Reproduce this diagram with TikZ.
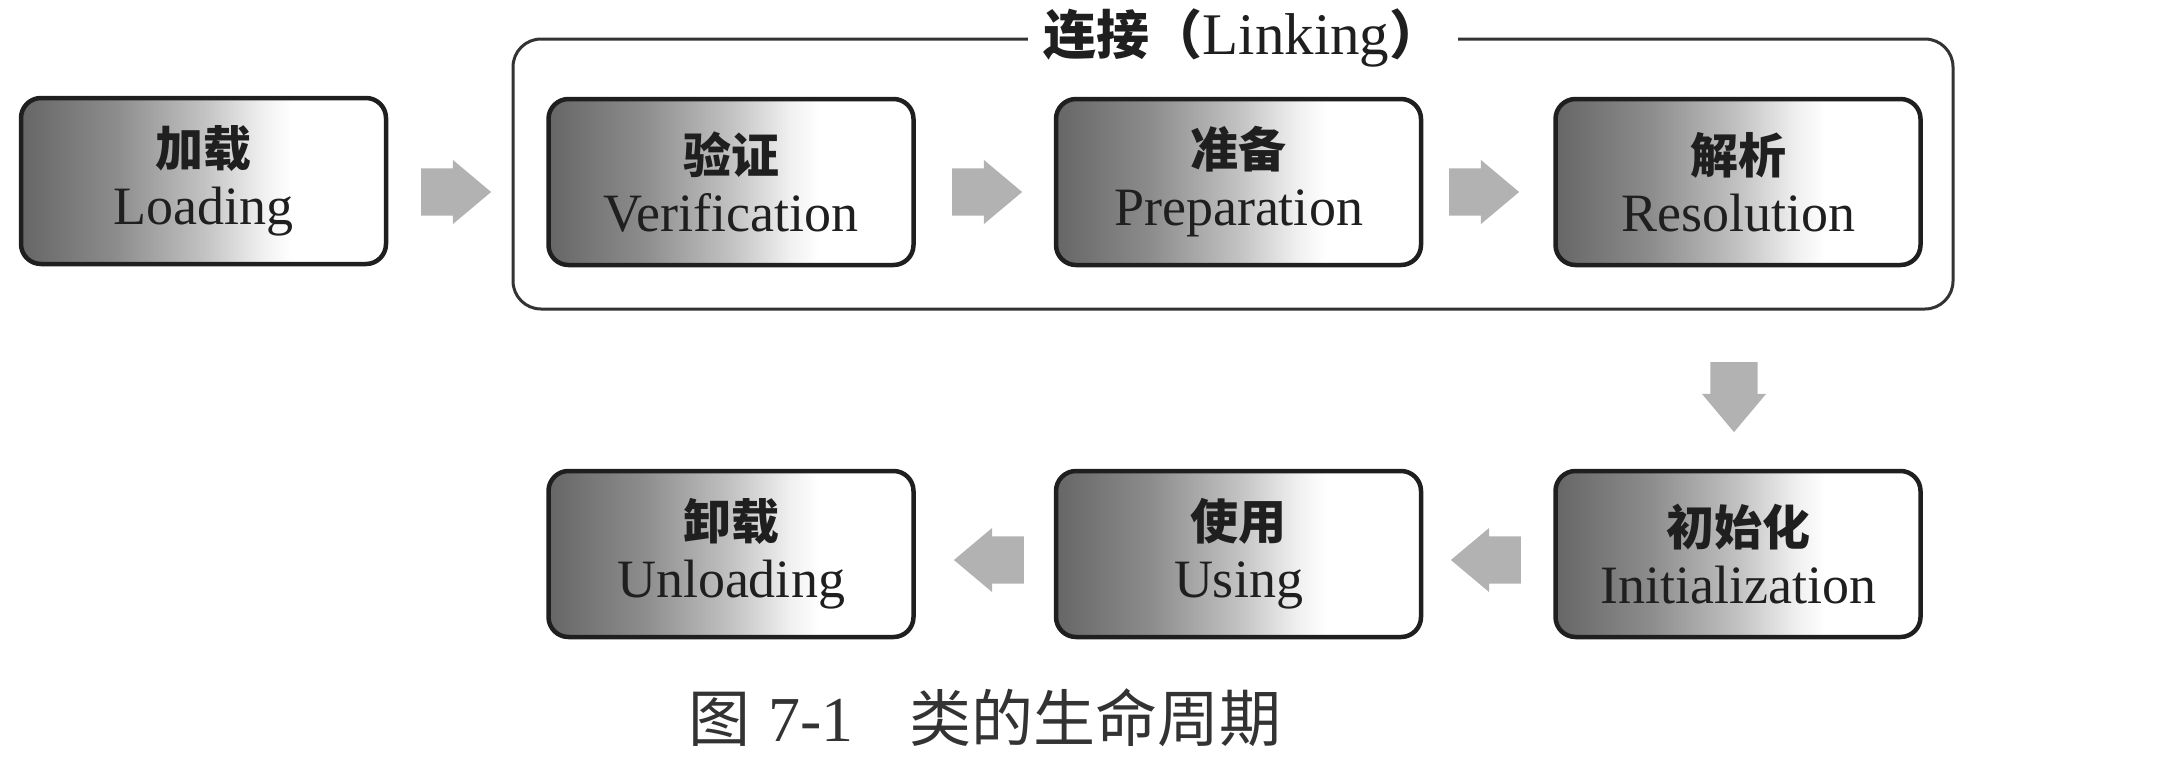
\documentclass[tikz,border=0pt]{standalone}
\usepackage{fontspec}
\setmainfont{Liberation Serif}
\newfontfamily\zh{Noto Sans CJK SC}
\usetikzlibrary{shapes.arrows}
\pgfdeclarehorizontalshading{stageshade}{100bp}{color(0bp)=(black!60); color(25bp)=(black!60); color(38bp)=(black!45); color(50bp)=(black!24); color(58bp)=(black!6); color(62bp)=(white); color(100bp)=(white)}
\newcommand\zt[1]{{\zh\bfseries\fontsize{48}{58}\selectfont #1}}
\tikzset{
  stage/.style={draw=black!88, line width=4.5pt, rounded corners=20pt,
    minimum width=365pt, minimum height=166pt, shading=stageshade,
    align=center, inner sep=0pt, text=black!88, font=\fontsize{54}{58}\selectfont},
  garrow/.style={single arrow, fill=black!30, draw=none, minimum height=70pt,
    minimum width=64pt, single arrow tip angle=80, inner ysep=20pt, inner xsep=0pt},
  garrowv/.style={garrow, inner xsep=20pt, inner ysep=0pt},
  linkframe/.style={draw=black!80, line width=3pt, rounded corners=28pt,
    minimum width=1440pt, minimum height=270pt, inner sep=0pt},
}
\begin{document}
\begin{tikzpicture}[x=1pt,y=-1pt]
\useasboundingbox (0,0) rectangle (2184,766);
\node[linkframe] (linking) at (1233,174) {};
\node[fill=white, inner xsep=16pt, inner ysep=2pt, text=black!88] (linklabel) at ([xshift=10pt]linking.north)
  {{\zh\bfseries\fontsize{53}{55}\selectfont 连接（}{\fontsize{59}{55}\selectfont Linking}{\zh\bfseries\fontsize{53}{55}\selectfont ）}};
\node[stage] (load) at (203.5,181) {\zt{加载}\\Loading};
\node[stage] (verif) at (731,182) {\zt{验证}\\Verification};
\node[stage] (prep) at (1238.5,182) {\zt{准备}\\Preparation};
\node[stage] (resol) at (1738,182) {\zt{解析}\\Resolution};
\node[stage] (unload) at (731,554) {\zt{卸载}\\Unloading};
\node[stage] (using) at (1238.5,554) {\zt{使用}\\Using};
\node[stage] (init) at (1738,554) {\zt{初始化}\\Initialization};
\node[garrow] (a1) at (442,192) {};
\node[garrow] (a2) at (973,192) {};
\node[garrow] (a3) at (1470,192) {};
\node[garrowv, shape border rotate=270] (a4) at (1734,383) {};
\node[garrow, shape border rotate=180] (a5) at (1500,560) {};
\node[garrow, shape border rotate=180] (a6) at (1003,560) {};
\node[text=black!80, inner sep=0pt] (cap) at (985,718)
  {{\zh\fontsize{62}{64}\selectfont 图}\hspace{18pt}{\fontsize{64}{64}\selectfont 7-1}\hspace{56pt}{\zh\fontsize{62}{64}\selectfont 类的生命周期}};
\end{tikzpicture}
\end{document}
